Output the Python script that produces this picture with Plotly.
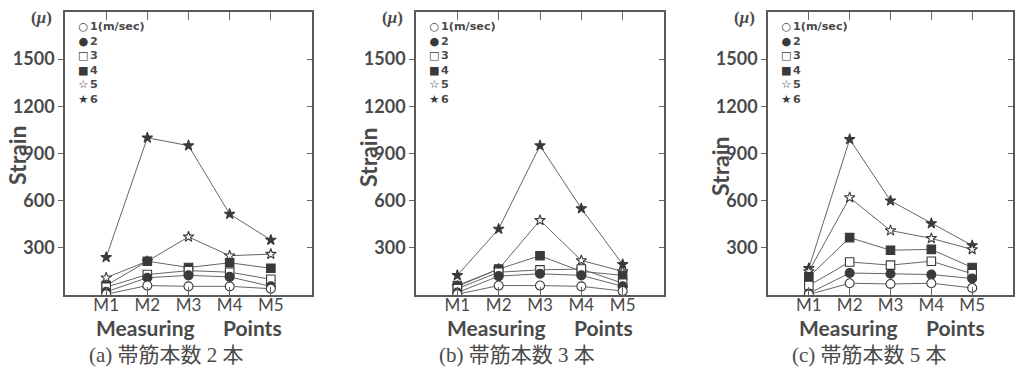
import plotly.graph_objects as go

points = ["M1", "M2", "M3", "M4", "M5"]
speeds = ["1(m/sec)", "2", "3", "4", "5", "6"]
captions = ["(a) 帯筋本数 2 本", "(b) 帯筋本数 3 本", "(c) 帯筋本数 5 本"]
yticks = [300, 600, 900, 1200, 1500]

# panel (a)
a_s1 = [5, 60, 55, 55, 40]
a_s2 = [20, 110, 125, 115, 55]
a_s3 = [50, 130, 155, 145, 100]
a_s4 = [60, 215, 175, 205, 170]
a_s5 = [110, 215, 370, 250, 260]
a_s6 = [240, 1000, 950, 515, 350]
# panel (b)
b_s1 = [5, 60, 60, 55, 25]
b_s2 = [15, 120, 135, 125, 55]
b_s3 = [40, 145, 160, 165, 75]
b_s4 = [60, 165, 250, 150, 125]
b_s5 = [55, 165, 475, 220, 150]
b_s6 = [125, 420, 950, 550, 195]
# panel (c)
c_s1 = [3, 75, 70, 75, 45]
c_s2 = [10, 140, 135, 130, 105]
c_s3 = [60, 210, 190, 215, 135]
c_s4 = [115, 365, 285, 290, 175]
c_s5 = [150, 620, 410, 360, 290]
c_s6 = [170, 990, 600, 455, 315]

panels = [
    [a_s1, a_s2, a_s3, a_s4, a_s5, a_s6],
    [b_s1, b_s2, b_s3, b_s4, b_s5, b_s6],
    [c_s1, c_s2, c_s3, c_s4, c_s5, c_s6],
]

W, H = 1020, 371
DARK = "#3a3a3a"
LINE = "#666666"
TXT = "#4a4a4a"
symbols = ["circle", "circle", "square", "square", "star", "star"]
fills = ["white", DARK, "white", DARK, "white", DARK]
sizes = [9, 9, 8.5, 8.5, 8, 8]
glyphs = ["○", "●", "□", "■", "☆", "★"]

lefts = [65, 416, 768]
rights = [312, 664, 1013]
top_px, bot_px = 12, 295
strain_y = [155, 157, 166]

fig = go.Figure()
layout = dict(
    width=W, height=H,
    margin=dict(l=0, r=0, t=0, b=0),
    paper_bgcolor="white", plot_bgcolor="white",
    showlegend=False,
)
annotations = []

for p in range(3):
    xa = "x" if p == 0 else f"x{p+1}"
    ya = "y" if p == 0 else f"y{p+1}"
    yr = f"y{p+4}"
    xkey = "xaxis" if p == 0 else f"xaxis{p+1}"
    ykey = "yaxis" if p == 0 else f"yaxis{p+1}"
    yrkey = f"yaxis{p+4}"
    dom_x = [lefts[p] / W, rights[p] / W]
    dom_y = [1 - bot_px / H, 1 - top_px / H]
    layout[xkey] = dict(
        domain=dom_x, anchor=ya, range=[0, 6],
        tickmode="array", tickvals=[1, 2, 3, 4, 5], ticktext=points,
        ticks="inside", ticklen=8, tickcolor=LINE, tickwidth=1,
        showline=True, linecolor="#5a5a5a", linewidth=1.6, mirror="ticks",
        showgrid=False, zeroline=False,
        tickfont=dict(family="Lato", size=17, color=TXT),
        ticklabelstandoff=-6,
        automargin=False,
    )
    layout[ykey] = dict(
        domain=dom_y, anchor=xa, range=[0, 1800],
        tickmode="array", tickvals=yticks,
        ticks="outside", ticklen=5, tickcolor=LINE, tickwidth=1,
        showline=True, linecolor="#5a5a5a", linewidth=1.6, mirror=True,
        showgrid=False, zeroline=False,
        tickfont=dict(family="Lato", size=18, color=TXT, weight="bold"),
        automargin=False,
    )
    layout[yrkey] = dict(
        overlaying=ya, anchor=xa, side="right", range=[0, 1800],
        tickmode="array", tickvals=yticks,
        ticks="inside", ticklen=5, tickcolor=LINE, tickwidth=1,
        showticklabels=False, showline=False, showgrid=False, zeroline=False,
        automargin=False,
    )
    series = panels[p]
    for i in reversed(range(6)):
        fig.add_trace(go.Scatter(
            x=[1, 2, 3, 4, 5], y=series[i], xaxis=xa, yaxis=ya,
            mode="lines+markers", name=speeds[i],
            line=dict(color=LINE, width=1),
            marker=dict(symbol=symbols[i], size=sizes[i], color=fills[i],
                        line=dict(color=DARK, width=1.1)),
        ))
    fig.add_trace(go.Scatter(x=[None], y=[None], xaxis=xa, yaxis=yr,
                             mode="markers", showlegend=False, hoverinfo="skip"))

    L = lefts[p]
    annotations.append(dict(
        x=(L + 18) / W, y=1 - 18 / H, xref="paper", yref="paper",
        text="<br>".join(glyphs), showarrow=False, xanchor="center", yanchor="top",
        align="center", font=dict(family="DejaVu Sans", size=11.2, color=DARK),
    ))
    annotations.append(dict(
        x=(L + 23) / W, y=1 - 18 / H, xref="paper", yref="paper",
        text="<br>".join(speeds), showarrow=False, xanchor="left", yanchor="top",
        align="left", font=dict(family="DejaVu Sans", size=11.2, color=TXT, weight="bold"),
    ))
    annotations.append(dict(
        x=(L - 24) / W, y=1 - 18 / H, xref="paper", yref="paper",
        text="(<i>μ</i>)", showarrow=False, xanchor="center", yanchor="middle",
        font=dict(family="Liberation Serif", size=17, color=TXT, weight="bold"),
    ))
    annotations.append(dict(
        x=(L - 48) / W, y=1 - strain_y[p] / H, xref="paper", yref="paper",
        text="<b>Strain</b>", showarrow=False, xanchor="center", yanchor="middle",
        textangle=-90, font=dict(family="Lato", size=23, color=TXT),
    ))
    annotations.append(dict(
        x=(L + 80) / W, y=1 - 327 / H, xref="paper", yref="paper",
        text="<b>Measuring</b>", showarrow=False, xanchor="center", yanchor="middle",
        font=dict(family="Lato", size=21, color=TXT),
    ))
    annotations.append(dict(
        x=(L + 187) / W, y=1 - 327 / H, xref="paper", yref="paper",
        text="<b>Points</b>", showarrow=False, xanchor="center", yanchor="middle",
        font=dict(family="Lato", size=21, color=TXT),
    ))
    annotations.append(dict(
        x=(L + 101) / W, y=1 - 355 / H, xref="paper", yref="paper",
        text=captions[p], showarrow=False, xanchor="center", yanchor="middle",
        font=dict(family="Liberation Serif, Noto Sans CJK JP", size=21, color=TXT),
    ))

layout["annotations"] = annotations
fig.update_layout(**layout)
fig.write_html("out.html", config={"displayModeBar": False},
               post_script="document.body.style.margin='0';document.body.style.overflow='hidden';")
